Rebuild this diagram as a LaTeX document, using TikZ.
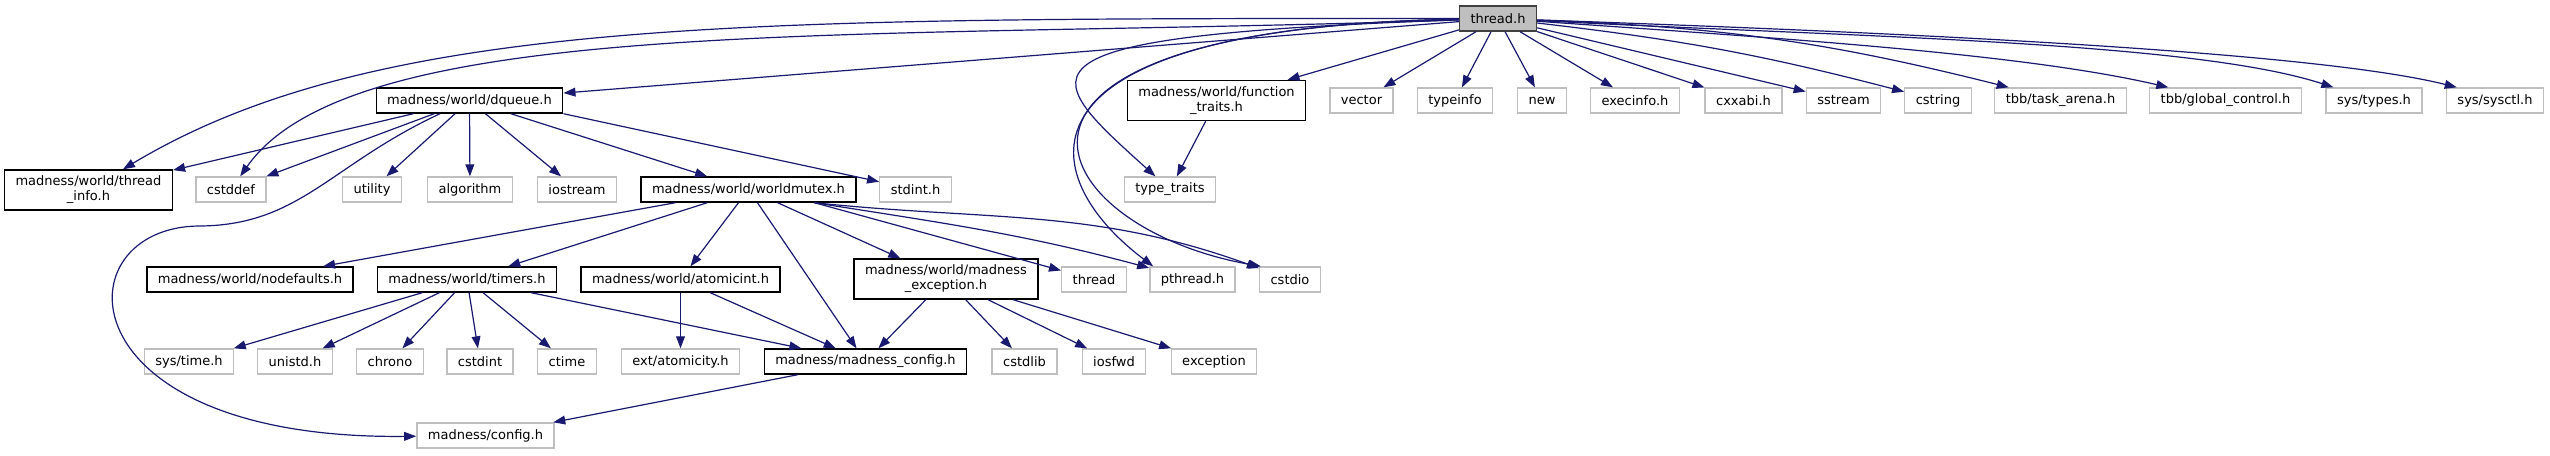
\documentclass[tikz,border=0pt]{standalone}
\usepackage{fontspec}
\setmainfont{DejaVu Sans}
\usepackage{xcolor}
\usetikzlibrary{arrows.meta}

\definecolor{edgeblue}{HTML}{191970}
\definecolor{extgrey}{HTML}{BFBFBF}

\tikzset{
  file/.style={rectangle, inner xsep=2.75pt, inner ysep=0.5pt, minimum height=6.25pt,
    line width=0.35pt, align=center, font=\fontsize{3.25}{3.75}\selectfont},
  doc/.style={file, draw=black},
  ext/.style={file, draw=extgrey},
  root/.style={file, draw=black!75, fill=extgrey},
  tall/.style={minimum height=10pt},
}

\begin{document}
\begin{tikzpicture}[x=0.25pt, y=0.25pt, >={Triangle[length=3pt, width=2.2pt]},
    every edge/.style={draw=edgeblue, line width=0.3pt}]
   \useasboundingbox (0,0) rectangle (2550,-455);
   % row 0
   \node[root] (thread_h) at (1498,-18.5) {thread.h};
   % row 1
   \node[doc] (dqueue_h) at (469.5,-100.5) {madness/world/dqueue.h};
   \node[doc, tall] (function_traits_h) at (1216.5,-100.5) {madness/world/function\\\_traits.h};
   \node[ext] (vector) at (1361.5,-100.5) {vector};
   \node[ext] (typeinfo) at (1455,-100.5) {typeinfo};
   \node[ext] (new) at (1542,-100.5) {new};
   \node[ext] (execinfo_h) at (1635,-100.5) {execinfo.h};
   \node[ext] (cxxabi_h) at (1743.5,-100.5) {cxxabi.h};
   \node[ext] (sstream) at (1843.5,-100.5) {sstream};
   \node[ext] (cstring) at (1938,-100.5) {cstring};
   \node[ext] (task_arena_h) at (2060.5,-100.5) {tbb/task\_arena.h};
   \node[ext] (global_control_h) at (2225.5,-100.5) {tbb/global\_control.h};
   \node[ext] (sys_types_h) at (2374,-100.5) {sys/types.h};
   \node[ext] (sys_sysctl_h) at (2495,-100.5) {sys/sysctl.h};
   % row 2
   \node[doc, tall] (thread_info_h) at (88.5,-190) {madness/world/thread\\\_info.h};
   \node[ext] (cstddef) at (231,-189.5) {cstddef};
   \node[ext] (utility) at (372,-189.5) {utility};
   \node[ext] (algorithm) at (470,-189.5) {algorithm};
   \node[ext] (iostream) at (577,-189.5) {iostream};
   \node[doc] (worldmutex_h) at (748.5,-189.5) {madness/world/worldmutex.h};
   \node[ext] (stdint_h) at (915.5,-189.5) {stdint.h};
   \node[ext] (type_traits) at (1170,-189.5) {type\_traits};
   % row 3
   \node[doc] (nodefaults_h) at (250,-279.5) {madness/world/nodefaults.h};
   \node[doc] (timers_h) at (467,-279.5) {madness/world/timers.h};
   \node[doc] (atomicint_h) at (680.5,-279.5) {madness/world/atomicint.h};
   \node[doc, tall] (madness_exception_h) at (946,-279) {madness/world/madness\\\_exception.h};
   \node[ext] (thread) at (1094,-279.5) {thread};
   \node[ext] (pthread_h) at (1192.5,-279.5) {pthread.h};
   \node[ext] (cstdio) at (1290,-279.5) {cstdio};
   % row 4
   \node[ext] (sys_time_h) at (189,-361.5) {sys/time.h};
   \node[ext] (unistd_h) at (295,-361.5) {unistd.h};
   \node[ext] (chrono) at (390,-361.5) {chrono};
   \node[ext] (cstdint) at (480,-361.5) {cstdint};
   \node[ext] (ctime) at (567,-361.5) {ctime};
   \node[ext] (ext_atomicity_h) at (680.5,-361.5) {ext/atomicity.h};
   \node[doc] (madness_config_h) at (865.5,-361.5) {madness/madness\_config.h};
   \node[ext] (cstdlib) at (1024.5,-361.5) {cstdlib};
   \node[ext] (iosfwd) at (1114,-361.5) {iosfwd};
   \node[ext] (exception) at (1214,-361.5) {exception};
   % row 5
   \node[ext] (config_h) at (485.5,-435.5) {madness/config.h};

   \path[->]
    (thread_h) edge [out=180, in=31, out distance=175pt, in distance=75pt] (thread_info_h)
    (thread_h) edge [out=182, in=55, out distance=150pt, in distance=50pt] (cstddef)
    (thread_h) edge (dqueue_h)
    (thread_h) edge (function_traits_h)
    (thread_h) edge [out=182, in=138, out distance=115pt, in distance=40pt] (type_traits)
    (thread_h) edge [out=181, in=143, out distance=115pt, in distance=37.5pt] ([xshift=1pt]pthread_h.north west)
    (thread_h) edge [out=181, in=170, out distance=132.5pt, in distance=55pt] ([xshift=0.5pt]cstdio.north west)
    (thread_h) edge (vector)
    (thread_h) edge (typeinfo)
    (thread_h) edge (new)
    (thread_h) edge (execinfo_h)
    (thread_h) edge (cxxabi_h)
    (thread_h) edge (sstream)
    (thread_h) edge [bend left=4] (cstring)
    (thread_h) edge [bend left=6] (task_arena_h)
    (thread_h) edge [out=-4, in=167, out distance=62.5pt, in distance=37.5pt] (global_control_h)
    (thread_h) edge [out=-3, in=162, out distance=78.5pt, in distance=37.5pt] (sys_types_h)
    (thread_h) edge [out=-2, in=166, out distance=90pt, in distance=37.5pt] ([xshift=2.75pt]sys_sysctl_h.north west)
    (dqueue_h) edge (thread_info_h)
    (dqueue_h) edge (cstddef)
    (dqueue_h) edge (utility)
    (dqueue_h) edge (algorithm)
    (dqueue_h) edge (iostream)
    (dqueue_h) edge (worldmutex_h)
    (dqueue_h.south east) edge (stdint_h)
    (function_traits_h) edge (type_traits)
    (worldmutex_h) edge (nodefaults_h)
    (worldmutex_h) edge (timers_h)
    (worldmutex_h) edge (atomicint_h)
    (worldmutex_h) edge (madness_config_h)
    (worldmutex_h) edge (madness_exception_h)
    ([xshift=16.5pt]worldmutex_h.south) edge (thread)
    ([xshift=16.5pt]worldmutex_h.south) edge [out=-9, in=165] (pthread_h)
    ([xshift=16.5pt]worldmutex_h.south) edge [out=-6, in=160] (cstdio)
    (timers_h) edge (sys_time_h)
    (timers_h) edge (unistd_h)
    (timers_h) edge (chrono)
    (timers_h) edge (cstdint)
    (timers_h) edge (ctime)
    (timers_h) edge (madness_config_h)
    (atomicint_h) edge (ext_atomicity_h)
    (atomicint_h) edge (madness_config_h)
    (madness_exception_h) edge (madness_config_h)
    (madness_exception_h) edge (cstdlib)
    (madness_exception_h) edge (iosfwd)
    (madness_exception_h) edge (exception)
    (madness_config_h) edge (config_h)
    ;
   % long way round from dqueue.h down to config.h
   \draw[->, edgeblue, line width=0.3pt] ([xshift=-7.375pt]dqueue_h.south)
    .. controls (330,-165) and (300,-225) .. (200,-226)
    .. controls (60,-226) and (60,-440) .. (config_h);
\end{tikzpicture}
\end{document}
